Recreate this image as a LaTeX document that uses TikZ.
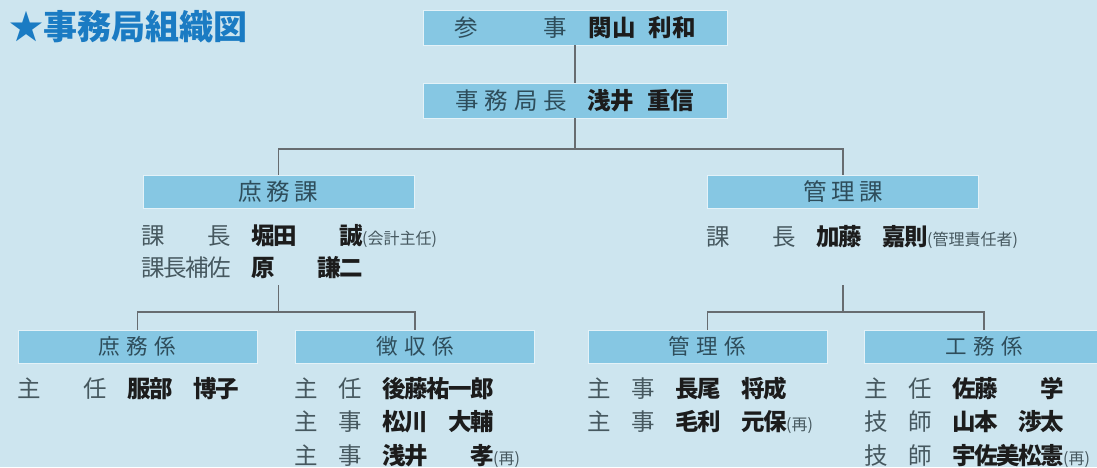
\documentclass[tikz,border=0pt]{standalone}
\usepackage{fontspec}
\setmainfont{Noto Sans CJK JP}
\definecolor{bg}{HTML}{CDE5EF}
\definecolor{boxblue}{HTML}{86C7E3}
\definecolor{boxedge}{HTML}{E4F2F8}
\definecolor{boxtext}{HTML}{2E4D5B}
\definecolor{roletext}{HTML}{46585F}
\definecolor{nametext}{HTML}{1C1C1C}
\definecolor{titleblue}{HTML}{1A7BC3}
\definecolor{linegray}{HTML}{676C70}
% each character in a fixed 22pt cell
\def\cjloop#1{\ifx#1\relax\else\makebox[22pt]{#1}\expandafter\cjloop\fi}
\newcommand\cj[1]{\cjloop#1\relax}
\newcommand\nm[1]{{\bfseries\color{nametext}\cj{#1}}}
\newcommand\smtx[1]{{\fontsize{16}{16}\selectfont #1}}
\begin{document}
\begin{tikzpicture}[x=1pt,y=-1pt,
  box/.style={fill=boxblue, draw=boxedge, line width=0.9pt, inner sep=0pt, text=boxtext, font=\fontsize{23.5}{23.5}\selectfont},
  topbox/.style={box, minimum width=304pt, minimum height=35pt},
  midbox/.style={box, minimum width=271pt, minimum height=33pt},
  lowbox/.style={box, minimum width=239pt, minimum height=33pt, font=\fontsize{21.5}{21.5}\selectfont},
  row/.style={anchor=base west, inner sep=0pt, text=roletext, font=\fontsize{23.5}{23.5}\selectfont},
  conn/.style={draw=linegray, line width=1.3pt}]
\useasboundingbox (0,0) rectangle (1097,467);
\fill[bg] (0,0) rectangle (1097,467);

% title
\node[anchor=west, inner sep=0pt, text=titleblue, font=\fontsize{34}{34}\selectfont\bfseries] (title) at (9,27) {★事務局組織図};

% boxes
\node[topbox] (b1) at (575,27.5) {参\hspace{65.5pt}事\hspace{21.5pt}{\bfseries\color{nametext}関山}\hspace{13pt}{\bfseries\color{nametext}利和}};
\node[topbox] (b2) at (575,100.5) {事\hspace{5.8pt}務\hspace{5.8pt}局\hspace{5.8pt}長\hspace{20.5pt}{\bfseries\color{nametext}浅井}\hspace{13pt}{\bfseries\color{nametext}重信}};
\node[midbox] (k1) at (278.5,191.5) {庶\hspace{4.5pt}務\hspace{4.5pt}課};
\node[midbox] (k2) at (843,191.5) {管\hspace{4.5pt}理\hspace{4.5pt}課};
\node[lowbox] (g1) at (137.5,346.5) {庶\hspace{6.5pt}務\hspace{6.5pt}係};
\node[lowbox] (g2) at (415,346.5) {徴\hspace{6.5pt}収\hspace{6.5pt}係};
\node[lowbox] (g3) at (707.5,346.5) {管\hspace{6.5pt}理\hspace{6.5pt}係};
\node[lowbox] (g4) at (984,346.5) {工\hspace{6.5pt}務\hspace{6.5pt}係};

% connectors
\coordinate (j1) at (575,149);
\coordinate (s1) at (278.5,285);
\coordinate (j2) at (278.5,312);
\coordinate (s2) at (843,285);
\coordinate (j3) at (843,312);
\draw[conn] (b1.south) -- (b2.north);
\draw[conn] (b2.south) -- (j1);
\draw[conn] (j1) -| (k1.north);
\draw[conn] (j1) -| (k2.north);
\draw[conn] (s1) -- (j2);
\draw[conn] (j2) -| (g1.north);
\draw[conn] (j2) -| (g2.north);
\draw[conn] (s2) -- (j3);
\draw[conn] (j3) -| (g3.north);
\draw[conn] (j3) -| (g4.north);

% section rows
\node[row] (k1a) at (142,244) {\cj{課　　長　}\nm{堀田　　誠}\smtx{(会計主任)}};
\node[row] (k1b) at (142,276) {\cj{課長補佐　}\nm{原　　謙二}};
\node[row] (k2a) at (707,245) {\cj{課　　長　}\nm{加藤　嘉則}\smtx{(管理責任者)}};

% unit rows
\node[row] (g1a) at (18,397) {\cj{主　　任　}\nm{服部　博子}};
\node[row] (g2a) at (295,397) {\cj{主　任　}\nm{後藤祐一郎}};
\node[row] (g2b) at (295,430) {\cj{主　事　}\nm{松川　大輔}};
\node[row] (g2c) at (295,464) {\cj{主　事　}\nm{浅井　　孝}\smtx{(再)}};
\node[row] (g3a) at (588,397) {\cj{主　事　}\nm{長尾　将成}};
\node[row] (g3b) at (588,430) {\cj{主　事　}\nm{毛利　元保}\smtx{(再)}};
\node[row] (g4a) at (865,397) {\cj{主　任　}\nm{佐藤　　学}};
\node[row] (g4b) at (865,430) {\cj{技　師　}\nm{山本　渉太}};
\node[row] (g4c) at (865,464) {\cj{技　師　}\nm{宇佐美松憲}\smtx{(再)}};
\end{tikzpicture}
\end{document}
